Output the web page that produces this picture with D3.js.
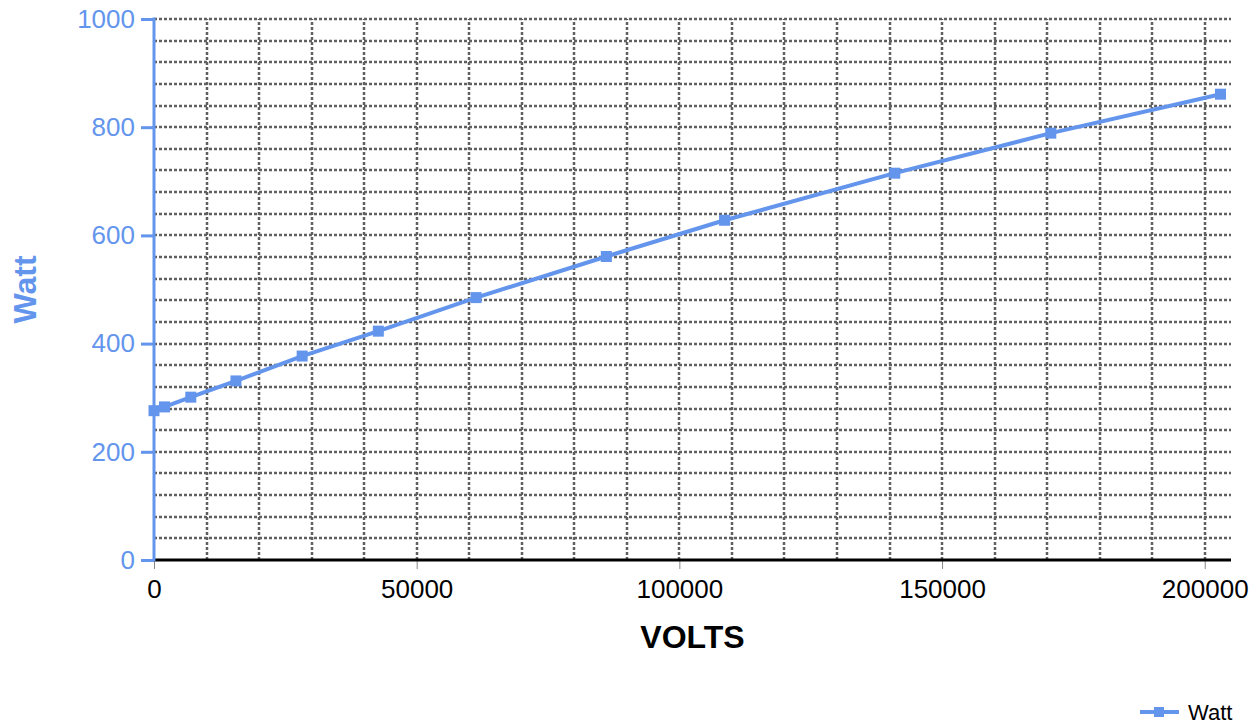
<!DOCTYPE html>
<html>
<head>
<meta charset="utf-8">
<script src="https://cdn.jsdelivr.net/npm/d3@7"></script>
<style>
    body { margin: 0; background: #fff; }
    svg { display: block; font-family: "Liberation Sans", Arial, sans-serif; }
</style>
</head>
<body>
<div id="main"></div>
<script>
// data
const volts = [0, 2000, 7000, 15600, 28200, 42700, 61300, 86100, 108600, 141000, 170700, 203000];
const watts = [276, 283, 301, 331, 377, 423, 485, 561, 628, 715, 789, 861];
const xTicks = [0, 50000, 100000, 150000, 200000];
const yTicks = [0, 200, 400, 600, 800, 1000];
const seriesName = "Watt";

const width = 1259, height = 724;
const margin = {left: 154, top: 19, right: 28, bottom: 164};
const blue = "#6495ed";

let svg = d3.select("#main").append("svg")
    .attr("width", width)
    .attr("height", height);

let scaleX = d3.scaleLinear().domain([0, 205000]).range([margin.left, width - margin.right]);
let scaleY = d3.scaleLinear().domain([0, 1000]).range([height - margin.bottom, margin.top]);

function draw() {
    let data = volts.map(function (v, i) {
        return {x: v, y: watts[i]};
    });

    // grid
    svg.append("g")
        .selectAll("line")
        .data(d3.range(40, 1001, 40))
        .join("line")
        .attr("x1", scaleX(0))
        .attr("x2", scaleX(205000))
        .attr("y1", d => Math.round(scaleY(d)))
        .attr("y2", d => Math.round(scaleY(d)))
        .attr("stroke", "#606060")
        .attr("stroke-width", 2.5)
        .attr("stroke-dasharray", "3,2");

    svg.append("g")
        .selectAll("line")
        .data(d3.range(10000, 200001, 10000))
        .join("line")
        .attr("x1", d => Math.round(scaleX(d)))
        .attr("x2", d => Math.round(scaleX(d)))
        .attr("y1", scaleY(0))
        .attr("y2", scaleY(1000))
        .attr("stroke", "#606060")
        .attr("stroke-width", 2.5)
        .attr("stroke-dasharray", "3,2");

    // x axis
    let gx = svg.append("g")
        .attr("transform", "translate(0," + scaleY(0) + ")")
        .call(d3.axisBottom(scaleX).tickValues(xTicks).tickFormat(d3.format("d")).tickSize(9).tickPadding(11));
    gx.select(".domain").remove();
    gx.selectAll(".tick line").attr("stroke", "#888").attr("stroke-width", 1);
    gx.selectAll(".tick text").attr("fill", "#000").attr("font-size", 26).attr("font-family", "Liberation Sans, Arial, sans-serif");
    svg.append("line")
        .attr("x1", scaleX(0) - 1).attr("x2", scaleX(205000))
        .attr("y1", scaleY(0)).attr("y2", scaleY(0))
        .attr("stroke", "#000").attr("stroke-width", 3);

    // y axis
    let gy = svg.append("g")
        .attr("transform", "translate(" + scaleX(0) + ",0)")
        .call(d3.axisLeft(scaleY).tickValues(yTicks).tickFormat(d3.format("d")).tickSize(13).tickPadding(6));
    gy.select(".domain").remove();
    gy.selectAll(".tick line").attr("stroke", blue).attr("stroke-width", 3);
    gy.selectAll(".tick text").attr("fill", blue).attr("font-size", 26).attr("font-family", "Liberation Sans, Arial, sans-serif");
    svg.append("line")
        .attr("x1", scaleX(0)).attr("x2", scaleX(0))
        .attr("y1", scaleY(1000) - 1.5).attr("y2", scaleY(0) + 1.5)
        .attr("stroke", blue).attr("stroke-width", 3);

    // line + markers
    svg.append("path")
        .datum(data)
        .attr("fill", "none")
        .attr("stroke", blue)
        .attr("stroke-width", 4)
        .attr("stroke-linejoin", "round")
        .attr("d", d3.line()
            .x(d => scaleX(d.x))
            .y(d => scaleY(d.y)));

    svg.append("g")
        .selectAll("rect")
        .data(data)
        .join("rect")
        .attr("x", d => scaleX(d.x) - 5.5)
        .attr("y", d => scaleY(d.y) - 5.5)
        .attr("width", 11)
        .attr("height", 11)
        .attr("fill", blue);

    // axis titles
    svg.append("text")
        .attr("x", (scaleX(0) + scaleX(205000)) / 2)
        .attr("y", 648)
        .attr("text-anchor", "middle")
        .attr("font-size", 32)
        .attr("font-weight", "bold")
        .attr("fill", "#000")
        .text("VOLTS");

    svg.append("text")
        .attr("transform", "translate(36," + ((scaleY(0) + scaleY(1000)) / 2) + ") rotate(-90)")
        .attr("text-anchor", "middle")
        .attr("font-size", 32)
        .attr("font-weight", "bold")
        .attr("fill", blue)
        .text("Watt");

    // legend
    let lg = svg.append("g").attr("transform", "translate(1140,712)");
    lg.append("line").attr("x1", 0).attr("x2", 39).attr("y1", 0).attr("y2", 0)
        .attr("stroke", blue).attr("stroke-width", 4);
    lg.append("rect").attr("x", 14).attr("y", -5).attr("width", 10).attr("height", 10).attr("fill", blue);
    lg.append("text").attr("x", 48).attr("y", 8)
        .attr("font-size", 22)
        .attr("fill", "#000")
        .text(seriesName);
}

draw();
</script>
</body>
</html>
